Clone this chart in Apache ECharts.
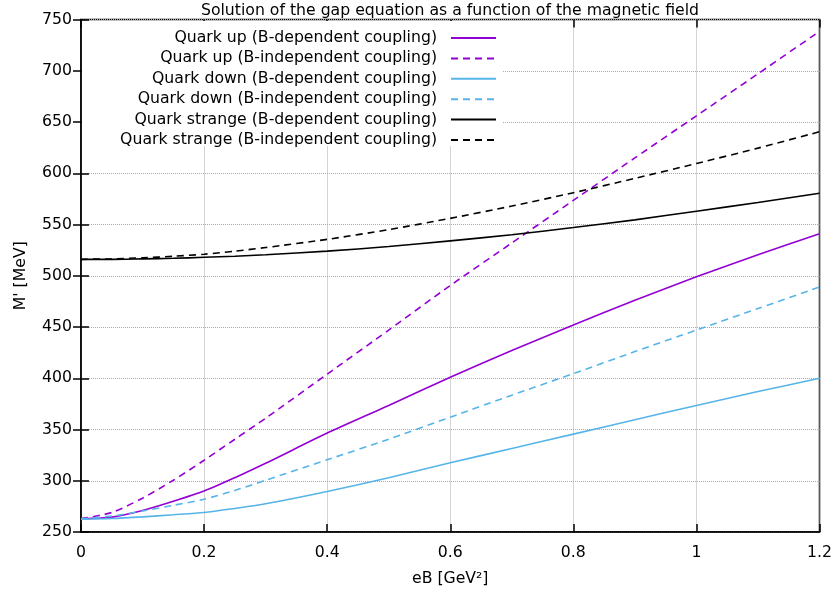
<!DOCTYPE html>
<html>
<head>
<meta charset="utf-8">
<script src="https://cdn.jsdelivr.net/npm/echarts@6/dist/echarts.min.js"></script>
<style>html,body{margin:0;padding:0;background:#fff}#c{width:836px;height:594px}</style>
</head>
<body>
<div id="c"></div>
<script>
const eB = [0, 0.05, 0.1, 0.15, 0.2, 0.25, 0.3, 0.4, 0.5, 0.6, 0.7, 0.8, 0.9, 1.0, 1.1, 1.2];
const upDep      = [263, 264.5, 271, 280, 290, 303, 317, 346.5, 373.5, 401, 427, 452, 476, 499, 520.5, 541];
const upIndep    = [263, 269, 283, 300.5, 320, 340.5, 361, 404, 447, 490.5, 532, 573.5, 615, 656, 697, 738.5];
const downDep    = [262.5, 263.2, 264.8, 266.8, 269, 273, 277.5, 289.5, 303, 317.5, 331.5, 345.5, 359.5, 373.5, 387, 400];
const downIndep  = [263, 265.5, 270.5, 276, 282, 290.5, 300.5, 320.5, 340.5, 362, 383.5, 404.5, 426, 447, 468, 489];
const strDep     = [516, 516, 516.5, 517, 518, 519, 520.5, 524, 528.5, 534, 540, 547, 554.5, 563, 571.5, 580.5];
const strIndep   = [516, 516.5, 517.5, 519, 521, 524, 527.5, 535.5, 545, 556, 568, 581, 595, 609.5, 624.5, 640.5];
const seriesNames = [
  'Quark up (B-dependent coupling)',
  'Quark up (B-independent coupling)',
  'Quark down (B-dependent coupling)',
  'Quark down (B-independent coupling)',
  'Quark strange (B-dependent coupling)',
  'Quark strange (B-independent coupling)'
];
const xTicks = [0, 0.2, 0.4, 0.6, 0.8, 1, 1.2];
const yTicks = [250, 300, 350, 400, 450, 500, 550, 600, 650, 700, 750];

const FONT = 'DejaVu Sans';
const FS = 15.7;
const PURPLE = '#9400d3', BLUE = '#56b4e9', BLACK = '#000000';
const dataSets = [upDep, upIndep, downDep, downIndep, strDep, strIndep];
const colors = [PURPLE, PURPLE, BLUE, BLUE, BLACK, BLACK];
const dashed = [false, true, false, true, false, true];

const series = dataSets.map((d, i) => ({
  name: seriesNames[i],
  type: 'line',
  data: eB.map((x, j) => [x, d[j]]),
  smooth: 0.25,
  symbol: 'none',
  color: colors[i],
  lineStyle: { color: colors[i], width: 1.6, type: dashed[i] ? [7, 5] : 'solid' },
  z: 3
}));

const legends = seriesNames.map((n, i) => ({
  data: [n],
  orient: 'vertical',
  align: 'right',
  right: 339,
  top: 30 + i * 20.4,
  padding: 0,
  itemWidth: 45,
  itemHeight: 14,
  itemStyle: { opacity: 0 },
  textStyle: { fontFamily: FONT, fontSize: FS, color: '#000', padding: [0, 9, 0, 0] },
  selectedMode: false,
  z: 5
}));

const chart = echarts.init(document.getElementById('c'), null, { renderer: 'canvas' });
chart.setOption({
  animation: false,
  backgroundColor: '#fff',
  title: {
    text: 'Solution of the gap equation as a function of the magnetic field',
    left: 450, top: 3, textAlign: 'center', padding: 0,
    textStyle: { fontFamily: FONT, fontSize: FS, fontWeight: 'normal', color: '#000' }
  },
  grid: { left: 81, right: 16.5, top: 19.5, bottom: 62, show: true, borderColor: '#000', borderWidth: 1.5, backgroundColor: 'transparent' },
  graphic: [{
    type: 'rect', z: 1,
    shape: { x: 82, y: 21, width: 420, height: 125 },
    style: { fill: '#fff' }
  }],
  legend: legends,
  xAxis: [{
    type: 'value', min: 0, max: 1.2, interval: 0.2,
    name: 'eB [GeV²]', nameLocation: 'middle', nameGap: 39,
    nameTextStyle: { fontFamily: FONT, fontSize: FS, color: '#000' },
    axisLine: { show: true, lineStyle: { color: '#000', width: 1.5 } },
    axisTick: { show: true, inside: true, length: 8, lineStyle: { color: '#000', width: 1.5 } },
    axisLabel: { fontFamily: FONT, fontSize: FS, color: '#000', margin: 13,
      formatter: v => { const t = xTicks.find(x => Math.abs(x - v) < 1e-9); return t === undefined ? '' : String(t); } },
    splitLine: { show: true, lineStyle: { color: '#ababab', width: 1, type: [1, 1] } }
  }, {
    type: 'value', min: 0, max: 1.2, interval: 0.2, position: 'top',
    axisLine: { show: false },
    axisTick: { show: true, inside: true, length: 8, lineStyle: { color: '#000', width: 1.5 } },
    axisLabel: { show: false }, splitLine: { show: false }
  }],
  yAxis: [{
    type: 'value', min: 250, max: 750, interval: 50,
    name: "M' [MeV]", nameLocation: 'middle', nameGap: 52,
    nameTextStyle: { fontFamily: FONT, fontSize: FS, color: '#000' },
    axisLine: { show: true, lineStyle: { color: '#000', width: 1.5 } },
    axisTick: { show: true, inside: true, length: 8, lineStyle: { color: '#000', width: 1.5 } },
    axisLabel: { fontFamily: FONT, fontSize: FS, color: '#000', margin: 9,
      formatter: v => { const t = yTicks.find(y => Math.abs(y - v) < 1e-9); return t === undefined ? '' : String(t); } },
    splitLine: { show: true, lineStyle: { color: '#ababab', width: 1, type: [1, 1] } }
  }, {
    type: 'value', min: 250, max: 750, interval: 50, position: 'right',
    axisLine: { show: false },
    axisTick: { show: true, inside: true, length: 8, lineStyle: { color: '#000', width: 1.5 } },
    axisLabel: { show: false }, splitLine: { show: false }
  }],
  series: series
});
</script>
</body>
</html>
